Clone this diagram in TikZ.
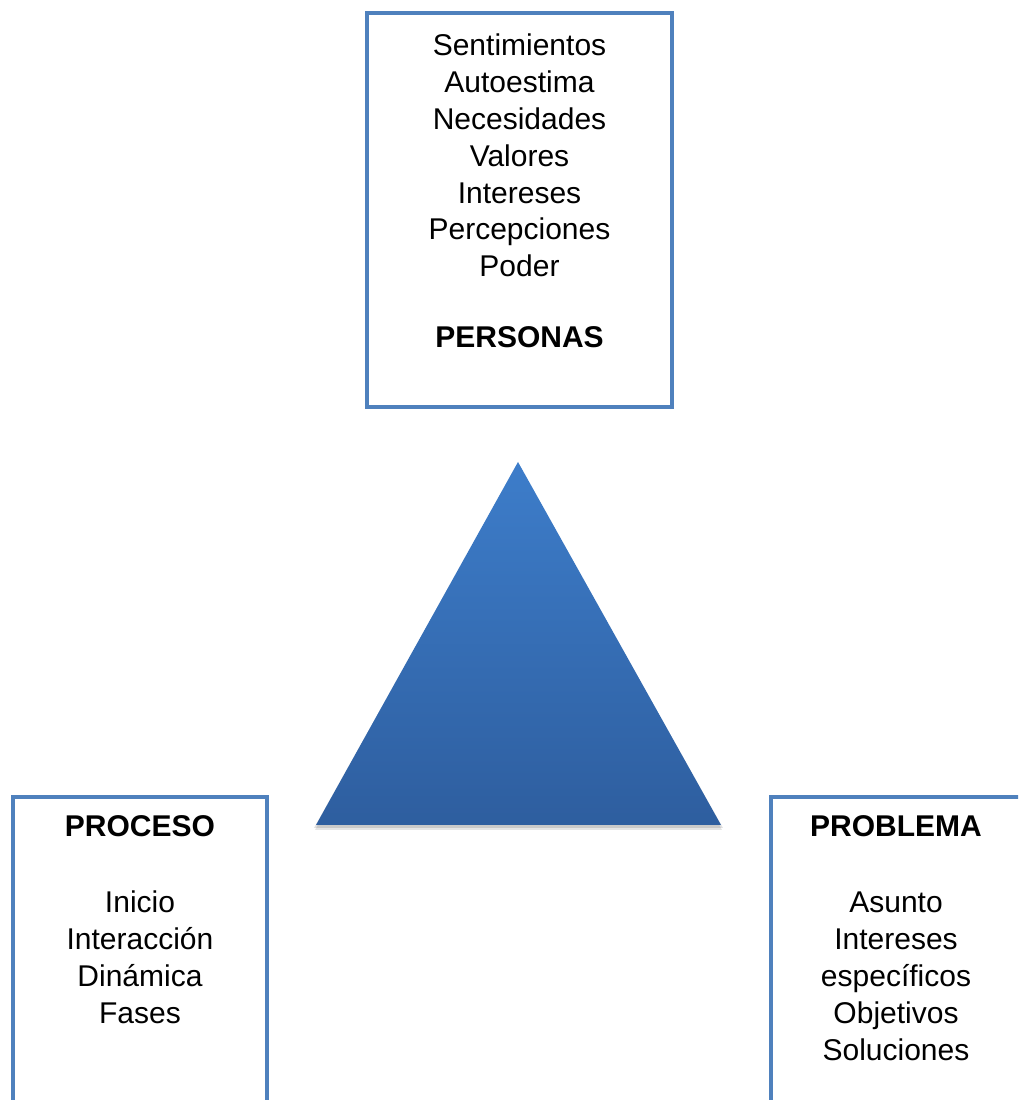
\documentclass[tikz,border=0pt]{standalone}
\usepackage{fontspec}
\setmainfont{Liberation Sans}
\definecolor{boxblue}{HTML}{4F81BD}
\definecolor{tritop}{HTML}{3D7DCA}
\definecolor{tribot}{HTML}{2E5E9F}
\begin{document}
\begin{tikzpicture}[x=1pt,y=1pt,
  framebox/.style={draw=boxblue, line width=4pt, fill=white, rectangle, inner sep=0pt},
  txt/.style={align=center, inner sep=0pt, font=\fontsize{30}{36.8}\selectfont, text=black}]
\useasboundingbox (0,0) rectangle (1018,1100);
\clip (0,0) rectangle (1018,1100);
\fill[white] (0,0) rectangle (1018,1100);
% boxes (y = 1100 - image y)
\node[framebox, minimum width=305pt, minimum height=394pt] (personasbox) at (519.5,890) {};
\node[framebox, minimum width=254pt, minimum height=340pt] (procesobox) at (140,133) {};
\node[framebox, minimum width=251pt, minimum height=340pt] (problemabox) at (896.5,133) {};
% triangle shadow
\fill[black, opacity=0.12] (518,636) -- (314,272) -- (723,272) -- cycle;
\fill[black, opacity=0.10] (518,636) -- (315,270) -- (722,270) -- cycle;
% triangle
\shade[top color=tritop, bottom color=tribot] (518,638) coordinate (apex) -- (316,275) coordinate (bl) -- (721,275) coordinate (br) -- cycle;
% texts
\node[txt, anchor=north] (personas) at (519.5,1066) {Sentimientos\\Autoestima\\Necesidades\\Valores\\Intereses\\Percepciones\\Poder\\[34pt]\textbf{PERSONAS}};
\node[txt, anchor=north] (proceso) at (140,285) {\textbf{PROCESO}\\[40pt]Inicio\\Interacción\\Dinámica\\Fases};
\node[txt, anchor=north] (problema) at (896,285) {\textbf{PROBLEMA}\\[40pt]Asunto\\Intereses\\específicos\\Objetivos\\Soluciones};
\end{tikzpicture}
\end{document}
